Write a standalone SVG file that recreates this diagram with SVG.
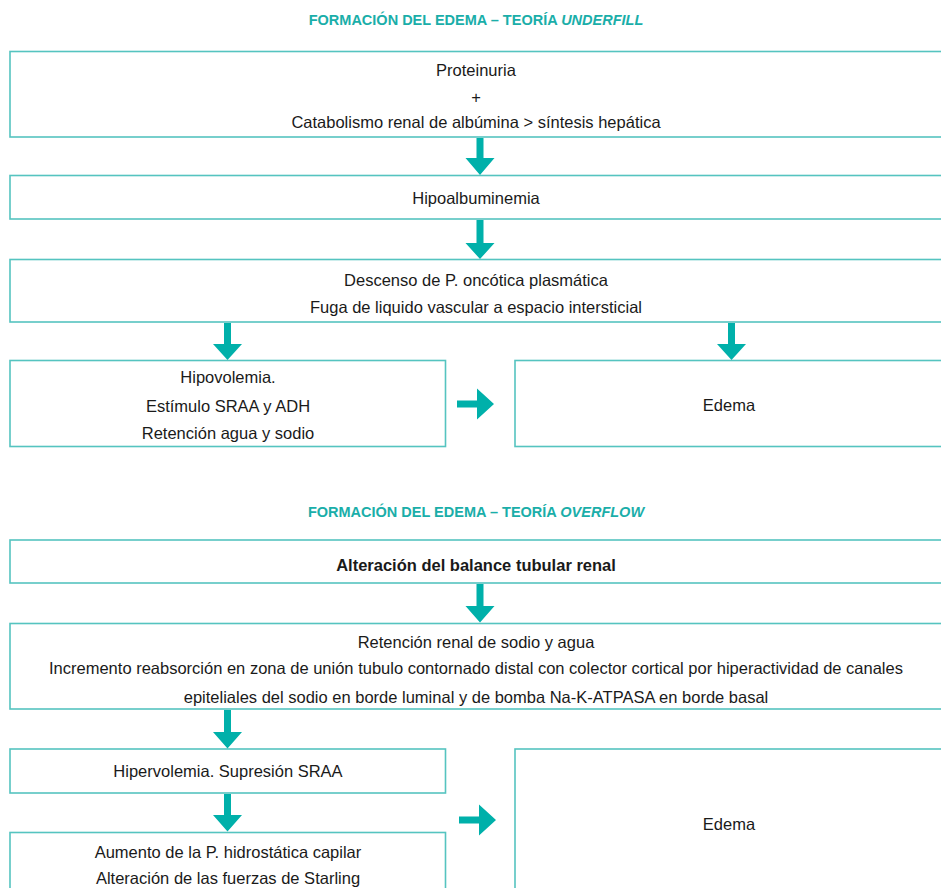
<svg xmlns="http://www.w3.org/2000/svg" width="941" height="888" viewBox="0 0 941 888">
<defs>
<style>
.box{fill:#ffffff;stroke:#55c4c0;stroke-width:1.6}
.t{font-family:"Liberation Sans",Arial,sans-serif;font-size:16.5px;fill:#1a1a1a;text-anchor:middle}
.b{font-weight:bold}
.title{font-family:"Liberation Sans",Arial,sans-serif;font-size:14.5px;font-weight:bold;fill:#1aaea9;text-anchor:middle}
.arr{fill:#00b0aa}
</style>
</defs>
<rect width="941" height="888" fill="#ffffff"/>
<text class="title" x="476" y="25">FORMACIÓN DEL EDEMA – TEORÍA <tspan font-style="italic">UNDERFILL</tspan></text>
<text class="title" x="476" y="517">FORMACIÓN DEL EDEMA – TEORÍA <tspan font-style="italic">OVERFLOW</tspan></text>

<g id="n1"><rect class="box" x="10" y="51.5" width="940" height="85.5"/>
<text class="t" x="476" y="76">Proteinuria</text><text class="t" x="476" y="103">+</text><text class="t" x="476" y="128">Catabolismo renal de albúmina &gt; síntesis hepática</text></g>
<g id="n2"><rect class="box" x="10" y="175.5" width="940" height="43.5"/>
<text class="t" x="476" y="204">Hipoalbuminemia</text></g>
<g id="n3"><rect class="box" x="10" y="259.5" width="940" height="62.5"/>
<text class="t" x="476" y="286">Descenso de P. oncótica plasmática</text><text class="t" x="476" y="313">Fuga de liquido vascular a espacio intersticial</text></g>
<g id="n4"><rect class="box" x="10" y="360.5" width="435.5" height="86"/>
<text class="t" x="228" y="383">Hipovolemia.</text><text class="t" x="228" y="412">Estímulo SRAA y ADH</text><text class="t" x="228" y="439">Retención agua y sodio</text></g>
<g id="n5"><rect class="box" x="515" y="360.5" width="435" height="86"/>
<text class="t" x="729" y="411">Edema</text></g>

<g id="n6"><rect class="box" x="10" y="540" width="940" height="43"/>
<text class="t b" x="476" y="571">Alteración del balance tubular renal</text></g>
<g id="n7"><rect class="box" x="10" y="623.5" width="940" height="85.5"/>
<text class="t" x="476" y="648">Retención renal de sodio y agua</text><text class="t" x="476" y="674">Incremento reabsorción en zona de unión tubulo contornado distal con colector cortical por hiperactividad de canales</text><text class="t" x="476" y="703">epiteliales del sodio en borde luminal y de bomba Na-K-ATPASA en borde basal</text></g>
<g id="n8"><rect class="box" x="10" y="749" width="435.5" height="44"/>
<text class="t" x="228" y="777">Hipervolemia. Supresión SRAA</text></g>
<g id="n9"><rect class="box" x="10" y="832.5" width="435.5" height="70"/>
<text class="t" x="228" y="858">Aumento de la P. hidrostática capilar</text><text class="t" x="228" y="884">Alteración de las fuerzas de Starling</text></g>
<g id="n10"><rect class="box" x="515" y="749" width="435" height="150"/>
<text class="t" x="729" y="830">Edema</text></g>

<g id="connectors" class="arr">
<path d="M476.5 138 h7 v20 h11 l-14.5 17 l-14.5 -17 h11 z"/>
<path d="M476.5 220 h7 v23 h11 l-14.5 16 l-14.5 -16 h11 z"/>
<path d="M224 323 h7 v21 h11 l-14.5 16 l-14.5 -16 h11 z"/>
<path d="M728 323 h7 v21 h11 l-14.5 16 l-14.5 -16 h11 z"/>
<path d="M457 400.5 h20 v-12 l17 15.5 l-17 15.5 v-12 h-20 z"/>
<path d="M476.5 584 h7 v22 h11 l-14.5 16.5 l-14.5 -16.5 h11 z"/>
<path d="M224 710 h7 v22 h11 l-14.5 16.5 l-14.5 -16.5 h11 z"/>
<path d="M224 794 h7 v21 h11 l-14.5 16.5 l-14.5 -16.5 h11 z"/>
<path d="M459 816.5 h20 v-12 l17 15.5 l-17 15.5 v-12 h-20 z"/>
</g>
</svg>
